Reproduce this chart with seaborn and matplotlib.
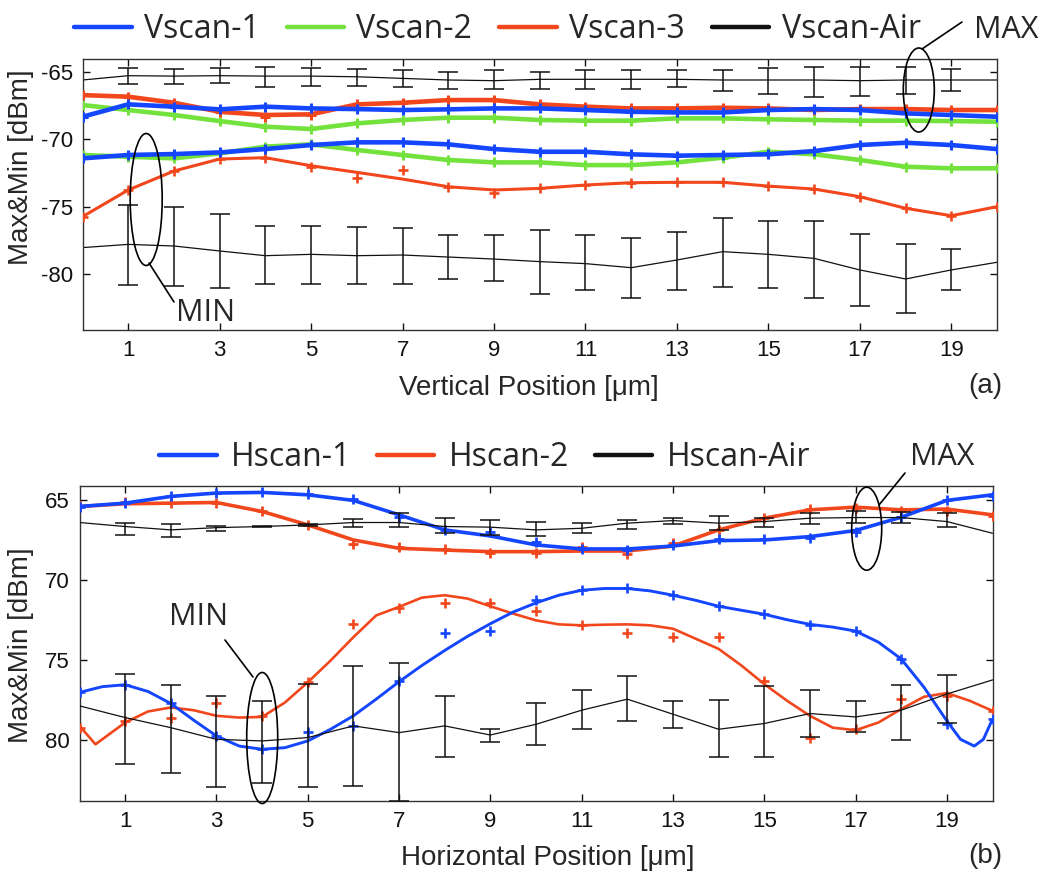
import numpy as np
import matplotlib
matplotlib.use("Agg")
import matplotlib.pyplot as plt
from matplotlib.patches import Ellipse
from matplotlib.lines import Line2D
import seaborn as sns

# ---------------- data: panel (a) vertical scan ----------------
positions = [0, 1, 2, 3, 4, 5, 6, 7, 8, 9, 10, 11, 12, 13, 14, 15, 16, 17, 18, 19, 20]
err_positions = [1, 2, 3, 4, 5, 6, 7, 8, 9, 10, 11, 12, 13, 14, 15, 16, 17, 18, 19]
x_ticks = [1, 3, 5, 7, 9, 11, 13, 15, 17, 19]

v1_max = [-68.32, -67.40, -67.57, -67.77, -67.57, -67.70, -67.75, -67.82, -67.77, -67.70, -67.70,
          -67.82, -67.95, -68.00, -68.00, -67.82, -67.75, -67.82, -68.07, -68.19, -68.32]
v1_min = [-71.41, -71.16, -71.09, -70.97, -70.72, -70.42, -70.22, -70.22, -70.37, -70.72, -70.92,
          -70.92, -71.11, -71.21, -71.16, -71.11, -70.87, -70.42, -70.25, -70.42, -70.72]
v2_max = [-67.45, -67.82, -68.19, -68.64, -69.06, -69.23, -68.81, -68.56, -68.39, -68.39, -68.56,
          -68.61, -68.61, -68.44, -68.44, -68.51, -68.56, -68.61, -68.61, -68.64, -68.69]
v2_min = [-71.16, -71.29, -71.41, -71.04, -70.54, -70.37, -70.79, -71.16, -71.53, -71.71, -71.71,
          -71.91, -71.91, -71.71, -71.36, -70.92, -71.11, -71.53, -72.03, -72.15, -72.15]
v3_max = [-66.71, -66.83, -67.28, -67.95, -68.19, -68.14, -67.40, -67.28, -67.08, -67.08, -67.40,
          -67.57, -67.70, -67.70, -67.65, -67.70, -67.82, -67.75, -67.75, -67.82, -67.82]
v3_max_pts = [-66.71, -66.83, -67.28, -67.95, -68.32, -68.19, -67.35, -67.28, -67.08, -67.08, -67.40,
              -67.57, -67.70, -67.70, -67.65, -67.70, -67.82, -67.75, -67.75, -67.82, -67.82]
v3_min = [-75.74, -73.76, -72.35, -71.46, -71.36, -71.96, -72.45, -72.95, -73.52, -73.76, -73.64,
          -73.39, -73.22, -73.19, -73.19, -73.47, -73.69, -74.26, -75.12, -75.67, -75.00]
v3_min_pts = [-75.74, -73.76, -72.35, -71.46, -71.36, -72.03, -72.90, -72.28, -73.52, -74.01, -73.64,
              -73.39, -73.22, -73.19, -73.19, -73.47, -73.69, -74.26, -75.12, -75.67, -75.00]
vair_max = [-65.59, -65.27, -65.30, -65.27, -65.30, -65.30, -65.35, -65.47, -65.59, -65.64, -65.54,
            -65.54, -65.54, -65.54, -65.59, -65.59, -65.59, -65.64, -65.59, -65.59, -65.59]
vair_max_upper = [-64.73, -64.78, -64.73, -64.65, -64.73, -64.78, -64.85, -64.98, -64.85, -64.98,
                  -64.85, -64.85, -64.85, -64.85, -64.73, -64.65, -64.65, -64.65, -64.78]
vair_max_lower = [-65.92, -65.92, -65.84, -66.09, -66.01, -66.01, -66.14, -66.29, -66.29, -66.29,
                  -66.29, -66.29, -66.14, -66.39, -66.63, -66.88, -66.76, -66.63, -66.39]
vair_min = [-78.04, -77.80, -77.92, -78.29, -78.64, -78.54, -78.64, -78.59, -78.74, -78.89, -79.08,
            -79.23, -79.53, -78.96, -78.34, -78.54, -78.84, -79.70, -80.37, -79.70, -79.13]
vair_min_upper = [-74.88, -75.05, -75.54, -76.41, -76.41, -76.53, -76.61, -77.10, -77.10, -76.73,
                  -77.10, -77.35, -76.91, -75.87, -76.04, -76.04, -77.03, -77.80, -78.14]
vair_min_lower = [-80.82, -80.89, -81.06, -80.74, -80.74, -80.74, -80.74, -80.37, -80.50, -81.51,
                  -81.21, -81.76, -81.21, -80.94, -81.06, -81.76, -82.35, -82.92, -81.19]
v_yticks = [-80, -75, -70, -65]

# ---------------- data: panel (b) horizontal scan ----------------
h1_max = [65.40, 65.19, 64.77, 64.56, 64.52, 64.67, 65.02, 65.92, 66.86, 67.24, 67.80,
          68.05, 68.05, 67.87, 67.53, 67.49, 67.28, 66.90, 66.07, 65.02, 64.67]
h1_max_pts = [65.44, 65.19, 64.73, 64.56, 64.52, 64.60, 64.94, 66.03, 66.86, 66.97, 67.59,
              68.05, 68.10, 67.80, 67.45, 67.45, 67.34, 66.97, 66.03, 64.98, 64.77]
h2_max = [65.40, 65.23, 65.19, 65.15, 65.71, 66.55, 67.49, 68.01, 68.12, 68.22, 68.22,
          68.18, 68.18, 67.87, 66.86, 66.13, 65.61, 65.44, 65.61, 65.56, 65.92]
h2_max_pts = [65.40, 65.15, 65.19, 65.19, 65.71, 66.55, 67.74, 67.91, 68.05, 68.28, 68.33,
              67.91, 68.37, 67.70, 66.86, 66.13, 65.56, 65.50, 65.65, 65.65, 65.98]

h1_min_x = [0, 0.5, 1, 1.5, 2, 2.5, 3, 3.5, 4, 4.5, 5, 5.5, 6, 6.5, 7, 7.5, 8, 8.5, 9, 9.5, 10,
            10.5, 11, 11.5, 12, 12.5, 13, 13.5, 14, 14.5, 15, 15.5, 16, 16.5, 17, 17.5, 18, 18.5,
            19, 19.3, 19.6, 19.8, 20]
h1_min = [77.01, 76.65, 76.53, 76.95, 77.70, 78.74, 79.73, 80.36, 80.56, 80.46, 80.04, 79.31,
          78.47, 77.43, 76.34, 75.33, 74.39, 73.51, 72.72, 71.99, 71.42, 70.94, 70.63, 70.52,
          70.52, 70.67, 70.94, 71.26, 71.63, 71.88, 72.13, 72.47, 72.76, 72.93, 73.18, 73.87,
          74.92, 76.69, 78.79, 79.94, 80.36, 79.94, 78.68]
h1_min_pts = [77.01, 76.53, 77.70, 79.73, 80.56, 79.46, 79.10, 76.28, 73.31, 73.18, 71.26,
              70.63, 70.52, 70.90, 71.63, 72.13, 72.82, 73.18, 74.92, 79.00, 78.68]

h2_min_x = [0, 0.35, 1, 1.5, 2, 2.5, 3, 3.5, 4, 4.5, 5, 5.5, 6, 6.5, 7, 7.5, 8, 8.5, 9, 9.5, 10,
            10.5, 11, 11.5, 12, 12.5, 13, 13.5, 14, 14.5, 15, 15.5, 16, 16.5, 17, 17.5, 18, 18.5,
            19, 19.5, 20]
h2_min = [79.10, 80.25, 78.89, 78.20, 77.95, 78.12, 78.47, 78.58, 78.54, 77.64, 76.38, 75.02,
          73.56, 72.20, 71.67, 71.09, 70.94, 71.15, 71.63, 72.09, 72.51, 72.76, 72.82, 72.78,
          72.76, 72.82, 73.03, 73.66, 74.29, 75.33, 76.49, 77.53, 78.47, 79.21, 79.37, 78.89,
          78.05, 77.28, 77.05, 77.53, 78.16]
h2_min_pts = [79.21, 78.79, 78.58, 77.70, 78.47, 76.34, 72.76, 71.74, 71.42, 71.40, 71.95,
              72.82, 73.28, 73.56, 73.56, 76.32, 79.83, 79.31, 77.43, 77.22, 78.16]

hair_max = [66.40, 66.65, 66.86, 66.72, 66.65, 66.55, 66.40, 66.40, 66.65, 66.69, 66.86,
            66.76, 66.44, 66.28, 66.44, 66.34, 66.13, 66.09, 66.09, 66.34, 67.07]
hair_max_top = [66.40, 66.49, 66.61, 66.61, 66.50, 66.17, 65.82, 66.13, 66.23, 66.34,
                66.40, 66.23, 66.13, 65.98, 66.13, 65.82, 65.71, 65.77, 65.82]
hair_max_bottom = [67.18, 67.28, 66.90, 66.69, 66.60, 66.69, 66.69, 67.03, 67.18, 67.24,
                   67.07, 66.82, 66.49, 66.86, 66.69, 66.51, 66.44, 66.40, 66.69]
hair_min = [77.85, 78.58, 79.21, 79.94, 80.04, 79.83, 79.10, 79.52, 79.10, 79.67, 79.00,
            78.12, 77.43, 78.37, 79.31, 78.95, 78.33, 78.54, 78.12, 77.11, 76.23]
hair_min_top = [75.86, 76.53, 77.22, 77.53, 76.49, 75.38, 75.19, 77.26, 79.31, 77.64,
                76.86, 75.96, 77.57, 77.47, 76.59, 76.86, 77.53, 76.53, 75.92]
hair_min_bottom = [81.46, 82.07, 82.93, 82.66, 82.93, 82.87, 83.77, 81.05, 80.08, 80.29,
                   79.31, 78.79, 79.21, 81.05, 81.05, 79.79, 79.46, 80.00, 78.89]
h_yticks = [65, 70, 75, 80]

v_labels = ["Vscan-1", "Vscan-2", "Vscan-3", "Vscan-Air"]
h_labels = ["Hscan-1", "Hscan-2", "Hscan-Air"]

# ---------------- style ----------------
sns.set_theme(style="ticks")
plt.rcParams["font.family"] = ["Liberation Sans", "DejaVu Sans"]
plt.rcParams["axes.unicode_minus"] = False

C_BLUE = "#1446ff"
C_GREEN = "#74e23c"
C_RED = "#f2471d"
C_BLACK = "#111111"
ANN_FONT = ["Open Sans", "DejaVu Sans"]

W, H = 1045, 874
fig = plt.figure(figsize=(W / 100, H / 100), dpi=100)
fig.patch.set_facecolor("white")


def fx(px):
    return px / W


def fy(py):
    return 1 - py / H


ax1 = fig.add_axes([fx(82.5), fy(330), (997 - 82.5) / W, (330 - 59) / H])
ax2 = fig.add_axes([fx(79.5), fy(801), (992.5 - 79.5) / W, (801 - 486) / H])


def curve(ax, x, y, color, lw, z):
    sns.lineplot(x=x, y=y, color=color, lw=lw, ax=ax, estimator=None, sort=False,
                 zorder=z, legend=False)


def marks(ax, x, y, color, ms, mew, z):
    sns.lineplot(x=x, y=y, color=color, ax=ax, estimator=None, sort=False,
                 linestyle="none", marker="+", markersize=ms, markeredgewidth=mew,
                 markeredgecolor=color, zorder=z, legend=False)


def bars(ax, x, center_all, low, high, z):
    c = np.array(center_all)[1:20]
    low = np.array(low)
    high = np.array(high)
    yerr = [np.abs(c - low), np.abs(high - c)]
    ax.errorbar(x, c, yerr=yerr, fmt="none", ecolor=C_BLACK, elinewidth=1.1,
                capsize=7, capthick=1.1, zorder=z)


# ---------------- panel (a) ----------------
for y_air, up, lo in [(vair_max, vair_max_upper, vair_max_lower),
                      (vair_min, vair_min_upper, vair_min_lower)]:
    curve(ax1, positions, y_air, C_BLACK, 0.9, 2)
    bars(ax1, err_positions, y_air, lo, up, 2)

for y in (v2_max, v2_min):
    curve(ax1, positions, y, C_GREEN, 3.3, 3)
    marks(ax1, positions, y, C_GREEN, 7, 2.2, 3)
curve(ax1, positions, v3_max, C_RED, 3.3, 4)
marks(ax1, positions, v3_max_pts, C_RED, 7, 2.2, 4)
curve(ax1, positions, v3_min, C_RED, 2.2, 4)
marks(ax1, positions, v3_min_pts, C_RED, 7, 1.9, 4)
for y in (v1_max, v1_min):
    curve(ax1, positions, y, C_BLUE, 3.3, 5)
    marks(ax1, positions, y, C_BLUE, 7, 2.2, 5)

ax1.set_xlim(0, 20)
ax1.set_ylim(-84.16, -64.03)
ax1.set_xticks(x_ticks)
ax1.set_yticks(v_yticks)

# ---------------- panel (b) ----------------
curve(ax2, positions, h2_max, C_RED, 2.6, 3)
marks(ax2, positions, h2_max_pts, C_RED, 7.5, 2.0, 3)
curve(ax2, h2_min_x, h2_min, C_RED, 1.9, 3)
marks(ax2, positions, h2_min_pts, C_RED, 7.5, 1.9, 3)
curve(ax2, positions, h1_max, C_BLUE, 2.6, 4)
marks(ax2, positions, h1_max_pts, C_BLUE, 7.5, 2.0, 4)
curve(ax2, h1_min_x, h1_min, C_BLUE, 2.1, 4)
marks(ax2, positions, h1_min_pts, C_BLUE, 7.5, 1.9, 4)

for y_air, top, bot in [(hair_max, hair_max_top, hair_max_bottom),
                        (hair_min, hair_min_top, hair_min_bottom)]:
    curve(ax2, positions, y_air, C_BLACK, 0.9, 6)
    bars(ax2, err_positions, y_air, top, bot, 6)

ax2.set_xlim(0, 20)
ax2.set_ylim(83.79, 64.12)
ax2.set_xticks(x_ticks)
ax2.set_yticks(h_yticks)

for ax in (ax1, ax2):
    ax.set_xlabel("")
    ax.set_ylabel("")
    ax.tick_params(direction="in", length=5, width=1, top=True, right=True,
                   labelsize=16, pad=7, colors="#111111")
    for s in ax.spines.values():
        s.set_color("#333333")
        s.set_linewidth(1.0)
    ax.set_facecolor("white")

# axis labels
fig.text(fx(529), fy(388), "Vertical Position [μm]", fontsize=20, ha="center", va="center")
fig.text(fx(548), fy(858), "Horizontal Position [μm]", fontsize=20, ha="center", va="center")
fig.text(fx(21), fy(167), "Max&Min [dBm]", fontsize=20, rotation=90, ha="center", va="center")
fig.text(fx(21), fy(645), "Max&Min [dBm]", fontsize=20, rotation=90, ha="center", va="center")
fig.text(fx(985), fy(386), "(a)", fontsize=20, ha="center", va="center")
fig.text(fx(985), fy(856), "(b)", fontsize=20, ha="center", va="center")

# legends
v_handles = [Line2D([], [], color=c, lw=3.2) for c in (C_BLUE, C_GREEN, C_RED, C_BLACK)]
fig.legend(v_handles, v_labels, loc="center left", bbox_to_anchor=(fx(74), fy(30)),
           ncol=4, frameon=False, prop={"family": ANN_FONT, "size": 23},
           handlelength=1.8, handletextpad=0.38, columnspacing=0.85,
           borderpad=0, borderaxespad=0)
h_handles = [Line2D([], [], color=c, lw=3.2) for c in (C_BLUE, C_RED, C_BLACK)]
fig.legend(h_handles, h_labels, loc="center left", bbox_to_anchor=(fx(159), fy(458)),
           ncol=3, frameon=False, prop={"family": ANN_FONT, "size": 23},
           handlelength=1.8, handletextpad=0.45, columnspacing=0.8,
           borderpad=0, borderaxespad=0)

# annotations: ellipses, leader lines, MAX/MIN labels
ellipses = [((918.8, 90), 31, 84), ((146.2, 199.5), 32, 132),
            ((866.7, 528.7), 30, 83), ((262.2, 738), 31, 131)]
for (cx, cy), w, h in ellipses:
    fig.add_artist(Ellipse((fx(cx), fy(cy)), w / W, h / H, transform=fig.transFigure,
                           fill=False, ec="black", lw=1.2, zorder=10))
leaders = [((922, 49), (962, 22)), ((149, 263), (174, 302)),
           ((879, 505), (905, 473)), ((225, 640), (253, 677))]
for (x0, y0), (x1, y1) in leaders:
    fig.add_artist(Line2D([fx(x0), fx(x1)], [fy(y0), fy(y1)], transform=fig.transFigure,
                          color="black", lw=1.2, zorder=10))
for txt, (tx, ty) in [("MAX", (1006, 30)), ("MIN", (206, 313)),
                      ("MAX", (942, 457)), ("MIN", (199, 617))]:
    fig.text(fx(tx), fy(ty), txt, fontsize=22, family=ANN_FONT, ha="center", va="center",
             zorder=11)

fig.savefig("out.png", dpi=100, facecolor="white")
